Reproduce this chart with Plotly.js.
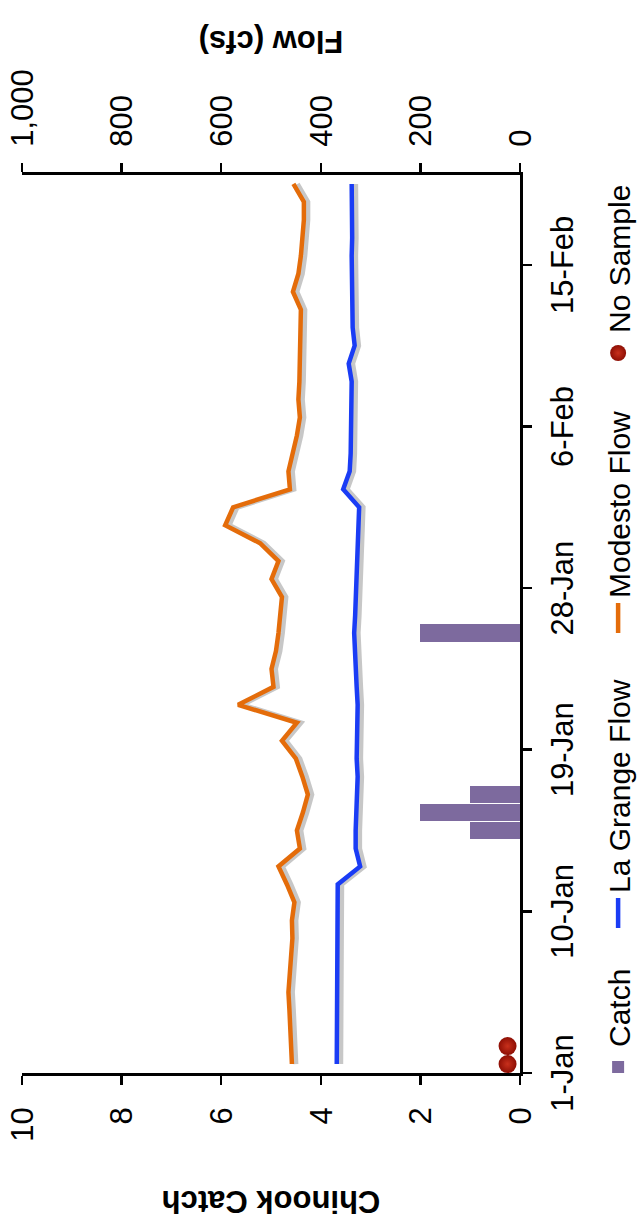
<!DOCTYPE html>
<html>
<head>
<meta charset="utf-8">
<script src="https://cdn.plot.ly/plotly-3.0.1.min.js"></script>
<style>
html,body{margin:0;padding:0;background:#fff;overflow:hidden;width:642px;height:1224px;}
#wrap{position:absolute;left:0;top:0;width:1224px;height:642px;transform-origin:0 0;transform:translate(0px,1224px) rotate(-90deg);}
#chart{width:1224px;height:642px;}
</style>
</head>
<body>
<div id="wrap"><div id="chart"></div></div>
<script>
// ---- data (daily, 1-Jan to 19-Feb) ----
const dates = [
  '2013-01-01 12:00','2013-01-02 12:00','2013-01-03 12:00','2013-01-04 12:00','2013-01-05 12:00',
  '2013-01-06 12:00','2013-01-07 12:00','2013-01-08 12:00','2013-01-09 12:00','2013-01-10 12:00',
  '2013-01-11 12:00','2013-01-12 12:00','2013-01-13 12:00','2013-01-14 12:00','2013-01-15 12:00',
  '2013-01-16 12:00','2013-01-17 12:00','2013-01-18 12:00','2013-01-19 12:00','2013-01-20 12:00',
  '2013-01-21 12:00','2013-01-22 12:00','2013-01-23 12:00','2013-01-24 12:00','2013-01-25 12:00',
  '2013-01-26 12:00','2013-01-27 12:00','2013-01-28 12:00','2013-01-29 12:00','2013-01-30 12:00',
  '2013-01-31 12:00','2013-02-01 12:00','2013-02-02 12:00','2013-02-03 12:00','2013-02-04 12:00',
  '2013-02-05 12:00','2013-02-06 12:00','2013-02-07 12:00','2013-02-08 12:00','2013-02-09 12:00',
  '2013-02-10 12:00','2013-02-11 12:00','2013-02-12 12:00','2013-02-13 12:00','2013-02-14 12:00',
  '2013-02-15 12:00','2013-02-16 12:00','2013-02-17 12:00','2013-02-18 12:00','2013-02-19 12:00'
];
const catchCounts = [
  0,0,0,0,0, 0,0,0,0,0,
  0,0,0,1,2, 1,0,0,0,0,
  0,0,0,0,2, 0,0,0,0,0,
  0,0,0,0,0, 0,0,0,0,0,
  0,0,0,0,0, 0,0,0,0,0
];
const laGrangeFlow = [
  368,368,367,367,367, 366,366,366,367,367,
  366,321,330,330,329, 327,326,328,327,325,
  326,328,329,331,333, 331,330,329,328,327,
  326,323,355,342,340, 340,339,339,338,344,
  332,336,337,338,338, 338,337,337,337,338
];
const modestoFlow = [
  458,459,461,463,465, 462,459,457,458,453,
  468,485,442,448,436, 426,437,450,478,448,
  566,495,499,490,485, 482,478,499,485,522,
  592,576,462,465,456, 448,442,445,443,442,
  442,440,440,456,445, 440,436,434,434,455
];
const noSampleDates = ['2013-01-01 12:00','2013-01-02 12:00'];
const noSampleValues = [0.25,0.25];

const dateTickVals = ['2013-01-01','2013-01-10','2013-01-19','2013-01-28','2013-02-06','2013-02-15'];
const dateTickText = ['1-Jan','10-Jan','19-Jan','28-Jan','6-Feb','15-Feb'];
const catchTickVals = [0,2,4,6,8,10];
const catchTickText = ['0','2','4','6','8','10'];
const flowTickVals = [0,200,400,600,800,1000];
const flowTickText = ['0','200','400','600','800','1,000'];

const ORANGE = '#e46c0a';
const BLUE = '#1a3cf5';
const SHADOW = 'rgba(0,0,0,0.22)';

const traces = [
  // soft shadows of the flow lines (same data, slightly offset hidden axis)
  {type:'scatter', mode:'lines', x:dates, y:laGrangeFlow, showlegend:false, hoverinfo:'skip',
   line:{color:SHADOW, width:5}, xaxis:'x', yaxis:'y2'},
  {type:'scatter', mode:'lines', x:dates, y:modestoFlow, showlegend:false, hoverinfo:'skip',
   line:{color:SHADOW, width:5}, xaxis:'x', yaxis:'y2'},
  {type:'bar', name:'Catch', x:dates, y:catchCounts, width:86400000*0.98,
   marker:{color:'#7d6a9e', line:{width:0}}, xaxis:'x', yaxis:'y', legend:'legend'},
  {type:'scatter', mode:'lines', name:'La Grange Flow', x:dates, y:laGrangeFlow,
   line:{color:BLUE, width:4.5}, xaxis:'x', yaxis:'y3', legend:'legend2'},
  {type:'scatter', mode:'lines', name:'Modesto Flow', x:dates, y:modestoFlow,
   line:{color:ORANGE, width:4.5}, xaxis:'x', yaxis:'y3', legend:'legend3'},
  {type:'scatter', mode:'markers', name:'No Sample', x:noSampleDates, y:noSampleValues,
   marker:{color:'#8e0f05', size:18, gradient:{type:'radial', color:'#c8301c'}, line:{width:0}},
   xaxis:'x', yaxis:'y', cliponaxis:false, legend:'legend4'}
];

const axisCommon = {
  showline:true, linewidth:3, linecolor:'#000', ticks:'outside', ticklen:9, tickwidth:2.5,
  tickcolor:'#000', showgrid:false, zeroline:false, fixedrange:true
};
function legendAt(x){
  return {orientation:'h', x:x, xanchor:'left', y:-0.197, yanchor:'middle',
          font:{size:30, color:'#000'}, bgcolor:'rgba(0,0,0,0)', itemwidth:30, borderwidth:0};
}

const layout = {
  width:1224, height:642,
  margin:{l:151, r:175, t:22, b:122, pad:0, autoexpand:false},
  paper_bgcolor:'#ffffff', plot_bgcolor:'#ffffff',
  font:{family:'Liberation Sans, Arial, sans-serif', size:31, color:'#000'},
  showlegend:true,
  legend:legendAt(-0.0156),
  legend2:legendAt(0.1559),
  legend3:legendAt(0.4844),
  legend4:legendAt(0.7795),
  bargap:0,
  xaxis:Object.assign({}, axisCommon, {
    type:'date', range:['2013-01-01','2013-02-20'],
    tickmode:'array', tickvals:dateTickVals, ticktext:dateTickText, ticklabelstandoff:4
  }),
  yaxis:Object.assign({}, axisCommon, {
    range:[0,10], tickmode:'array', tickvals:catchTickVals, ticktext:catchTickText,
    ticklabelstandoff:16,
    title:{text:'Chinook Catch', standoff:40, font:{size:31, weight:700}}
  }),
  yaxis2:{overlaying:'y', range:[8,1008], visible:false, fixedrange:true},
  yaxis3:Object.assign({}, axisCommon, {
    overlaying:'y', side:'right', anchor:'x', range:[0,1000],
    tickmode:'array', tickvals:flowTickVals, ticktext:flowTickText, ticklabelstandoff:10,
    title:{text:'Flow (cfs)', standoff:18, font:{size:31, weight:700}}
  })
};

Plotly.newPlot('chart', traces, layout, {staticPlot:true, displayModeBar:false});
</script>
</body>
</html>
